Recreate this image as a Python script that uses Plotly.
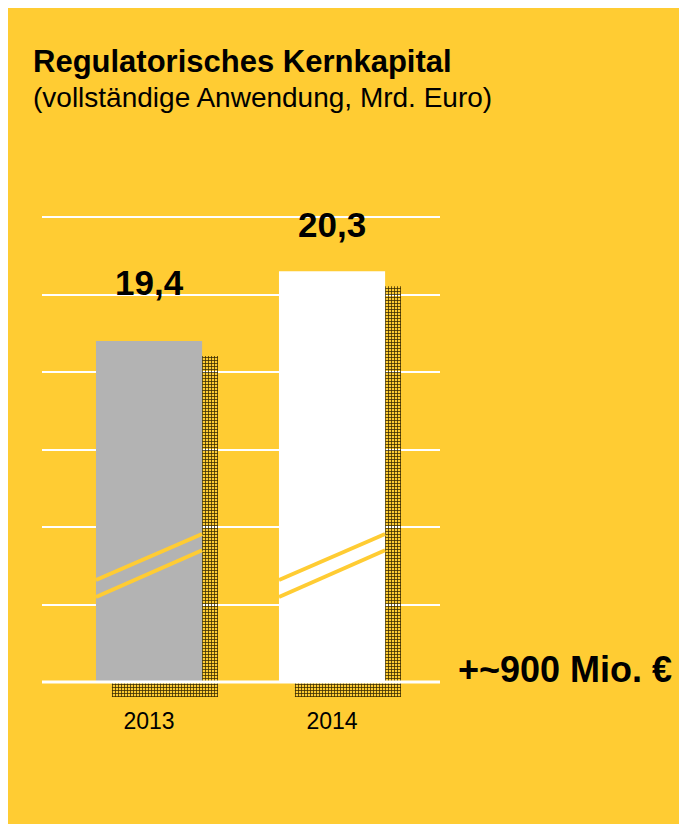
import plotly.graph_objects as go

# data
years = ["2013", "2014"]
values = [19.4, 20.3]
value_labels = ["19,4", "20,3"]
bar_colors = ["#B3B3B3", "#FFFFFF"]

title = "<b>Regulatorisches Kernkapital</b>"
subtitle = "(vollständige Anwendung, Mrd. Euro)"
delta_text = "<b>+~900 Mio. €</b>"

YELLOW = "#FFCC33"
FONT = "Liberation Sans, Arial, sans-serif"

# page pixels; the page body has an 8px margin, so the figure starts at (8, 8)
OFF = 8
W, H = 687 - OFF, 824 - OFF
L, R, T, B = 42 - OFF, 440 - OFF, 215 - OFF, 697 - OFF
axis_base = 15          # axis is cut, bars start at 15
px_per_unit = 77.5
shadow_dy = 15 / px_per_unit   # shadow drops 15px
y_top = 21 + 2 / px_per_unit   # a little headroom so the 21 gridline is drawn
bar_w = 0.58
shadow_dx = 0.087

def paper_x(px):
    return (px - OFF - L) / (R - L)

def paper_y(py):
    return (B - (py - OFF)) / (B - T)

fig = go.Figure()

# hatched shadows
fig.add_trace(go.Bar(
    x=years, y=[v - axis_base for v in values],
    base=axis_base - shadow_dy,
    width=bar_w, offset=-bar_w / 2 + shadow_dx,
    marker=dict(color="rgba(0,0,0,0)", line=dict(width=0),
                pattern=dict(shape="+", size=3, solidity=0.45,
                             fgcolor="#3a2c00", bgcolor="rgba(0,0,0,0)",
                             fillmode="replace")),
    hoverinfo="skip", showlegend=False,
))

# main bars
fig.add_trace(go.Bar(
    x=years, y=[v - axis_base for v in values],
    base=axis_base,
    width=bar_w, offset=-bar_w / 2,
    marker=dict(color=bar_colors, line=dict(width=0)),
    showlegend=False,
))

# background panel
fig.add_shape(type="rect", xref="paper", yref="paper", layer="below",
              x0=paper_x(0), x1=paper_x(700), y0=paper_y(840), y1=paper_y(0),
              fillcolor=YELLOW, line=dict(width=0))

# baseline
fig.add_shape(type="line", xref="paper", yref="y",
              x0=0, x1=1, y0=axis_base, y1=axis_base,
              line=dict(color="white", width=3))

# axis-break marks across each bar
for i in range(len(years)):
    for y0, y1 in [(16.316, 16.91), (16.097, 16.70)]:
        fig.add_shape(type="line", xref="x", yref="y",
                      x0=i - bar_w / 2, x1=i + bar_w / 2, y0=y0, y1=y1,
                      line=dict(color=YELLOW, width=4))

# value labels (x as category index)
label_shift = [59, 47]
for i, (v, t) in enumerate(zip(values, value_labels)):
    fig.add_annotation(x=i, y=v, xref="x", yref="y", text=f"<b>{t}</b>",
                       showarrow=False, yanchor="middle", yshift=label_shift[i],
                       font=dict(size=35, color="black", family=FONT))

# title texts
fig.add_annotation(xref="paper", yref="paper", x=paper_x(31), y=paper_y(61),
                   xanchor="left", yanchor="middle", text=title, showarrow=False,
                   font=dict(size=31, color="black", family=FONT))
fig.add_annotation(xref="paper", yref="paper", x=paper_x(31), y=paper_y(98),
                   xanchor="left", yanchor="middle", text=subtitle, showarrow=False,
                   font=dict(size=28, color="black", family=FONT))
fig.add_annotation(xref="paper", yref="paper", x=paper_x(456), y=paper_y(669),
                   xanchor="left", yanchor="middle", text=delta_text, showarrow=False,
                   font=dict(size=36, color="black", family=FONT))

fig.update_layout(
    width=W, height=H,
    margin=dict(l=L, r=W - R, t=T, b=H - B, pad=0),
    paper_bgcolor="white", plot_bgcolor="rgba(0,0,0,0)",
    barmode="overlay",
    font=dict(family=FONT, color="black"),
    xaxis=dict(type="category", range=[-0.585, 1.59], showgrid=False,
               zeroline=False, showline=False, ticks="",
               tickfont=dict(size=23, color="black"), ticklabelstandoff=8),
    yaxis=dict(range=[axis_base - shadow_dy, y_top], tick0=axis_base, dtick=1,
               showgrid=True, gridcolor="white", gridwidth=1.5,
               zeroline=False, showline=False, showticklabels=False, ticks=""),
)

fig.write_html("out.html")
